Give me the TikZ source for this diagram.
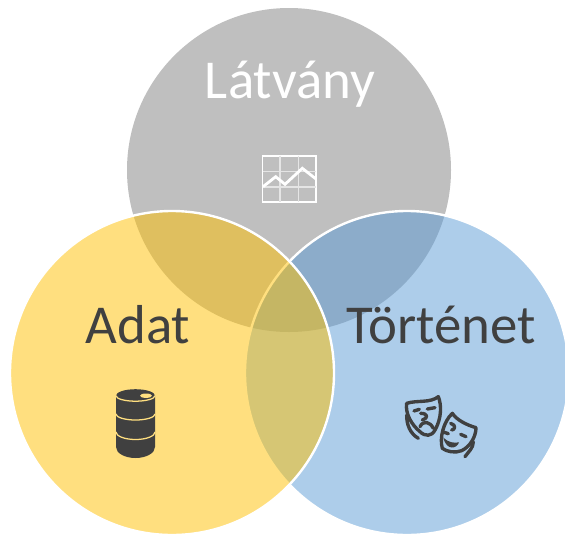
\documentclass[tikz,border=0pt]{standalone}
\usepackage{fontspec}
\setmainfont{Carlito}
\definecolor{korszurke}{HTML}{BFBFBF}
\definecolor{korsarga}{HTML}{FFC000}
\definecolor{korkek}{HTML}{5B9BD5}
\definecolor{sotet}{HTML}{404040}
\tikzset{
	kor/.style={draw=white,line width=1.7pt,fill opacity=0.5},
	felirat/.style={anchor=base,font=\fontsize{39}{39}\selectfont,text=sotet},
	maszk/.style={draw=sotet,line width=2.4pt,line cap=round,line join=round}
}
\begin{document}
\begin{tikzpicture}[x=0.025cm,y=-0.025cm]
	\useasboundingbox (0,0) rectangle (565,534);
	% circles
	\fill[korszurke] (289,170) circle[radius=162];
	\draw[kor,fill=korkek] (407,373) circle[radius=162];
	\draw[kor,fill=korsarga] (172,373) circle[radius=162];
	% labels
	\node[felirat,text=white] (latvany) at (290,98) {Látvány};
	\node[felirat] (adat) at (138,343) {Adat};
	\node[felirat] (tortenet) at (441,343) {Történet};
	% chart
	\draw[white,line width=1.3pt] (262.5,155.7) rectangle (316,202.3);
	\foreach \x in {280,298.3}
		\draw[white!90!black,line width=0.8pt] (\x,155.7) -- (\x,202.3);
	\foreach \y in {171.7,187}
		\draw[white!90!black,line width=0.8pt] (262.5,\y) -- (316,\y);
	\draw[white,line width=2pt] (263,186.7) -- (275.7,176.7) -- (285,184.3) -- (302.3,168.3) -- (316,179);
	% barrel
	\fill[sotet] (116,395.7) -- (116,447) arc[start angle=180,end angle=0,x radius=19.5,y radius=11] -- (155,395.7) arc[start angle=0,end angle=-180,x radius=19.5,y radius=6.5] -- cycle;
	\draw[korsarga!50!white,line width=0.9pt] (116,395.7) arc[start angle=180,end angle=0,x radius=19.5,y radius=5.5];
	\draw[korsarga!50!white,line width=0.9pt] (116,414) arc[start angle=180,end angle=0,x radius=19.5,y radius=6];
	\draw[korsarga!50!white,line width=0.9pt] (116,432) arc[start angle=180,end angle=0,x radius=19.5,y radius=7.5];
	\fill[korsarga!50!white] (146,395.7) ellipse (6 and 2.2);
	% masks
	\begin{scope}[shift={(390,385)},scale=1/3]
		\draw[maszk] (50,55) .. controls (80,45) and (120,55) .. (145,35) .. controls (155,60) and (155,100) .. (135,135) .. controls (125,155) and (105,155) .. (90,140) .. controls (65,120) and (45,85) .. (50,55) -- cycle;
		\draw[maszk] (50,90) .. controls (50,120) and (60,145) .. (85,160);
		\draw[maszk] (72,78) -- (88,73);
		\draw[maszk] (112,72) -- (135,68);
		\draw[maszk] (92,85) .. controls (115,85) and (115,100) .. (97,105);
		\draw[maszk] (90,125) .. controls (100,105) and (120,110) .. (130,130);
		\draw[maszk] (187,85) .. controls (200,105) and (230,120) .. (258,128) .. controls (258,155) and (240,185) .. (215,197) .. controls (195,205) and (170,200) .. (157,190) .. controls (148,160) and (160,110) .. (187,85) -- cycle;
		\draw[maszk] (250,170) .. controls (250,190) and (235,200) .. (225,215);
		\draw[maszk] (160,141) -- (175,146);
		\draw[maszk] (212,148) -- (228,155);
		\draw[maszk] (182,115) .. controls (200,120) and (195,135) .. (185,135);
		\fill[sotet] (160,158) .. controls (175,172) and (190,175) .. (207,172) .. controls (202,190) and (170,200) .. (160,158) -- cycle;
	\end{scope}
\end{tikzpicture}
\end{document}
